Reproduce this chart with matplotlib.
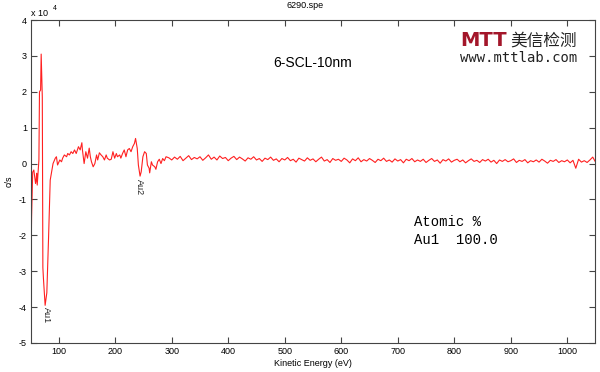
import matplotlib
matplotlib.use('Agg')
import matplotlib.pyplot as plt
from matplotlib.ticker import FuncFormatter

plt.rcParams['font.family'] = ['Liberation Sans', 'Noto Sans CJK SC', 'DejaVu Sans']

# kinetic energy (eV) and counts (units of 1e4 c/s)
ev_start = [50, 51, 52, 54, 56, 59, 60, 61, 62, 65, 66, 68, 69, 71, 72, 73,
            76, 79, 82, 85, 87, 90, 94, 96, 98, 102, 105, 107, 110, 114, 116,
            119, 122, 125, 128, 131, 135, 138, 141, 142, 145, 148, 151, 154,
            156, 158, 161, 164, 167, 169, 172, 175, 178, 181, 184, 186, 190,
            193, 196, 199, 202, 204, 208, 210, 213, 216, 219, 222, 225, 228,
            231, 234, 236, 239, 241, 244, 246, 249, 252, 255, 257, 260, 261,
            264, 266, 270, 272, 275, 278, 281, 284, 287, 290]
cps_start = [-2.8, -2.9, -1.5, -0.24, -0.18, -0.55, -0.46, -0.27, -0.6, 0.1,
             2.0, 2.05, 3.05, 1.85, -2.9, -3.2, -3.95, -3.6, -2.1, -0.46,
             -0.27, 0.0, 0.15, 0.19, -0.04, 0.1, 0.05, 0.15, 0.24, 0.19, 0.28,
             0.24, 0.33, 0.28, 0.38, 0.28, 0.47, 0.38, 0.58, 0.38, 0.0, 0.33,
             0.15, 0.43, 0.19, 0.05, -0.09, 0.0, 0.24, 0.1, 0.3, 0.24, 0.19,
             0.1, 0.24, 0.15, 0.1, 0.12, 0.33, 0.15, 0.28, 0.19, 0.24, 0.15,
             0.28, 0.38, 0.19, 0.38, 0.42, 0.33, 0.47, 0.56, 0.7, 0.42, -0.04,
             -0.35, -0.23, 0.19, 0.33, 0.28, -0.04, -0.13, -0.26, 0.05, -0.04,
             -0.09, -0.16, 0.05, 0.12, 0.0, 0.14, 0.08, 0.19]

ev_tail = list(range(295, 1051, 5))
cps_tail = [0.16, 0.10, 0.18, 0.12, 0.20, 0.08, 0.15, 0.22, 0.11, 0.17,
            0.13, 0.19, 0.09, 0.16, 0.24, 0.12, 0.18, 0.10, 0.21, 0.14,
            0.17, 0.08, 0.15, 0.20, 0.11, 0.18, 0.13, 0.07, 0.16, 0.12,
            0.19, 0.10, 0.14, 0.06, 0.15, 0.11, 0.18, 0.09, 0.13, 0.05,
            0.14, 0.10, 0.17, 0.08, 0.12, 0.04, 0.15, 0.11, 0.07, 0.16,
            0.09, 0.13, 0.05, 0.12, 0.18, 0.07, 0.11, 0.03, 0.14, 0.09,
            0.12, 0.06, 0.15, 0.10, 0.02, 0.13, 0.08, 0.16, 0.05, 0.11,
            0.07, 0.14, 0.09, 0.03, 0.12, 0.08, 0.15, 0.06, 0.10, 0.04,
            0.13, 0.07, 0.11, 0.02, 0.12, 0.08, 0.14, 0.05, 0.10, 0.06,
            0.12, 0.03, 0.09, 0.14, 0.06, 0.10, 0.01, 0.11, 0.07, 0.13,
            0.04, 0.09, 0.12, 0.05, 0.10, 0.02, 0.08, 0.13, 0.06, 0.09,
            0.03, 0.11, 0.07, 0.12, 0.04, 0.09, 0.00, 0.10, 0.06, 0.11,
            0.05, 0.08, 0.13, 0.03, 0.09, 0.06, 0.11, 0.02, 0.08, 0.05,
            0.10, 0.04, 0.12, 0.07, 0.01, 0.09, 0.06, 0.11, 0.03, 0.08,
            0.05, 0.10, 0.02, 0.09, -0.13, 0.12, 0.04, 0.08, 0.03, 0.10,
            0.18, 0.04]

peak_names = ['Au1', 'Au2']
peak_ev = [78, 243]
peak_cps = [-4.0, -0.42]

x_ticks = [100, 200, 300, 400, 500, 600, 700, 800, 900, 1000]
y_ticks = [-5, -4, -3, -2, -1, 0, 1, 2, 3, 4]

energy = ev_start + ev_tail
counts = [v * 1e4 for v in cps_start + cps_tail]

fig = plt.figure(figsize=(6, 3.72), dpi=100)
ax = fig.add_axes([31/600, 29/372, 564/600, 323/372])

ax.plot(energy, counts, color='#ff2020', lw=0.8)

for name, xe, yc in zip(peak_names, peak_ev, peak_cps):
    ax.text(xe, yc * 1e4, name, rotation=270, ha='center', va='top',
            fontsize=6.5, color='#222222')

ax.set_xlim(51, 1049)
ax.set_ylim(-5e4, 4e4)
ax.set_xticks(x_ticks)
ax.set_yticks([t * 1e4 for t in y_ticks])
ax.yaxis.set_major_formatter(FuncFormatter(lambda v, p: '%d' % round(v / 1e4)))
ax.tick_params(direction='in', length=4, width=0.8, top=True, right=True,
               labelsize=6.5, color='#444444', pad=3)
for s in ax.spines.values():
    s.set_color('#444444')
    s.set_linewidth(0.8)

ax.set_xlabel('Kinetic Energy (eV)', fontsize=6.5, labelpad=2)
ax.set_ylabel('c/s', fontsize=6.5, labelpad=4)

fig.text(0.508, 1 - 6/372, '6290.spe', ha='center', va='center', fontsize=6.5)
fig.text(31/600, 1 - 13/372, 'x 10', ha='left', va='center', fontsize=6.5)
fig.text(53/600, 1 - 8/372, '4', ha='left', va='center', fontsize=5)

ax.text(313/600, 1 - 63/372, '6-SCL-10nm', transform=fig.transFigure,
        ha='center', va='center', fontsize=10)
fig.text(414/600, 1 - 222/372, 'Atomic %', ha='left', va='center',
         fontsize=10, family='Liberation Mono')
fig.text(414/600, 1 - 240/372, 'Au1  100.0', ha='left', va='center',
         fontsize=10, family='Liberation Mono')

# logo
fig.text(460/600, 1 - 41/372, 'MTT', ha='left', va='center', fontsize=14,
         fontweight='bold', color='#a3162a', family='DejaVu Sans')
fig.text(510/600, 1 - 41/372, '美信检测', ha='left', va='center', fontsize=12,
         family=['Noto Sans CJK SC', 'DejaVu Sans'], color='#222222')
fig.text(460/600, 1 - 58/372, 'www.mttlab.com', ha='left', va='center',
         fontsize=10, family='DejaVu Sans Mono', color='#222222')

fig.savefig('out.png', dpi=100)
